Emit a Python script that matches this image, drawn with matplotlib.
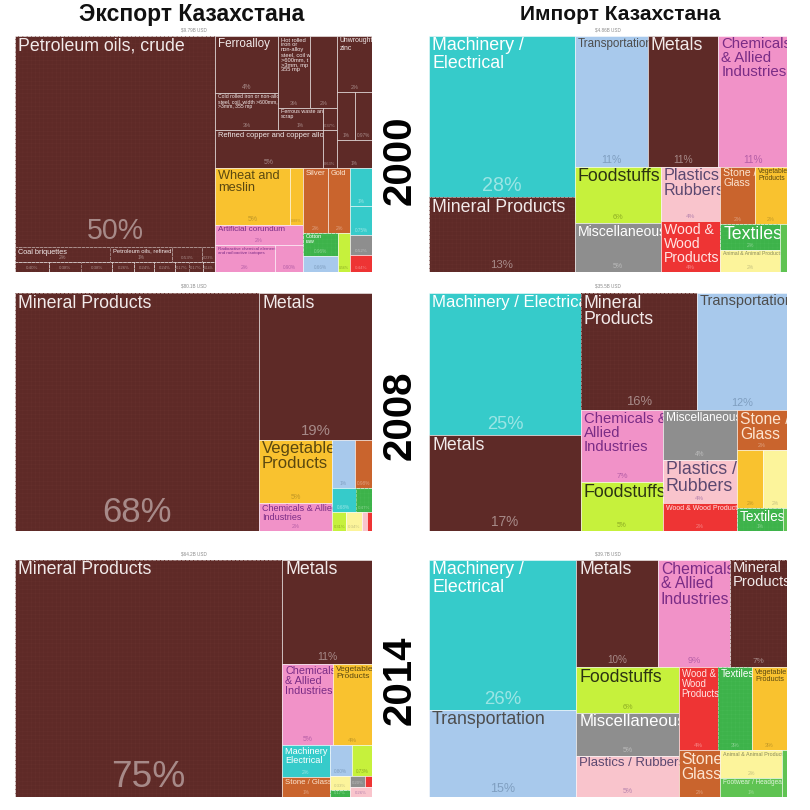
import matplotlib
matplotlib.use("Agg")
import math
import matplotlib.pyplot as plt
from matplotlib.patches import Rectangle
from matplotlib.textpath import TextPath
from matplotlib.font_manager import FontProperties

plt.rcParams["hatch.linewidth"] = 0.35

# ---------------- DATA ----------------
years = ["2000", "2008", "2014"]
titles = ["Экспорт Казахстана", "Импорт Казахстана"]

# Export 2000
exp2000_usd = "$9.79B USD"
exp2000_labels = [
    "Petroleum oils, crude", "Coal briquettes", "Petroleum oils, refined", "", "",
    "", "", "", "", "", "", "", "", "",
    "Ferroalloy",
    "Cold rolled iron or non-alloy\nsteel, coil, width >600mm, t\n>3mm, 355 mp",
    "Hot rolled\niron or\nnon-alloy\nsteel, coil w\n>600mm, t\n>3mm, mp\n355 mp",
    "", "Ferrous waste and\nscrap", "", "Refined copper and copper alloys", "",
    "Unwrought\nzinc", "", "", "",
    "Wheat and\nmeslin", "", "Artificial corundum",
    "Radioactive chemical elements\nand radioactive isotopes", "",
    "Silver", "Gold", "Cotton\nraw", "", "", "", "", "", "",
]
exp2000_values = [
    50.1, 1.69, 1.10, 0.53, 0.23,
    0.40, 0.38, 0.38, 0.26, 0.24, 0.24, 0.17, 0.17, 0.14,
    4.26, 2.77, 2.73, 2.31, 1.18, 0.37, 4.87, 0.63, 2.33, 1.03, 0.97, 1.16,
    5.07, 0.88, 2.09, 1.92, 0.90, 1.93, 1.70, 0.96, 0.66, 0.56, 1.0, 0.75, 0.52, 0.44,
]
exp2000_cats = (["min"] * 14 + ["met"] * 12 +
                ["veg", "veg", "chem", "chem", "chem", "stone", "stone", "text",
                 "trans", "food", "mach", "mach", "misc", "wood"])
exp2000_tree = ("h", [
    ("v", [0, ("v", [("h", [1, 2, 3, 4]), ("h", [5, 6, 7, 8, 9, 10, 11, 12, 13])])]),
    ("v", [
        ("h", [
            ("v", [("h", [("v", [14, 15]), ("v", [("h", [16, 17]), ("h", [18, 19])])]),
                   ("h", [20, 21])]),
            ("v", [22, ("h", [23, 24]), 25])]),
        ("h", [
            ("v", [("h", [26, 27]), ("v", [28, ("h", [29, 30])])]),
            ("v", [("h", [31, 32]), ("h", [("v", [33, 34]), 35])]),
            ("v", [36, 37, 38, 39])]),
    ]),
])

# Import 2000
imp2000_usd = "$4.86B USD"
imp2000_labels = ["Machinery /\nElectrical", "Mineral Products", "Transportation", "Metals",
                  "Chemicals\n& Allied\nIndustries", "Foodstuffs", "Miscellaneous",
                  "Plastics\nRubbers", "Wood &\nWood\nProducts", "Stone /\nGlass",
                  "Vegetable\nProducts", "Textiles", "Animal & Animal Products", ""]
imp2000_values = [28, 13, 11.4, 11.0, 10.7, 5.8, 5.0, 3.9, 3.6, 2.4, 2.2, 1.8, 1.6, 0.4]
imp2000_cats = ["mach", "min", "trans", "met", "chem", "food", "misc", "plast", "wood",
                "stone", "veg", "text", "anim", "foot"]
imp2000_tree = ("h", [("v", [0, 1]),
                      ("v", [("h", [2, 3, 4]),
                             ("h", [("v", [5, 6]), ("v", [7, 8]),
                                    ("v", [("h", [9, 10]), ("h", [("v", [11, 12]), 13])])])])])

# Export 2008
exp2008_usd = "$80.1B USD"
exp2008_labels = ["Mineral Products", "Metals", "Vegetable\nProducts",
                  "Chemicals & Allied\nIndustries", "", "", "", "", "", "", "", ""]
exp2008_values = [68, 19.4, 5.4, 2.4, 1.27, 0.98, 0.68, 0.47, 0.31, 0.34, 0.11, 0.11]
exp2008_cats = ["min", "met", "veg", "chem", "trans", "stone", "mach", "text", "food",
                "anim", "plast", "wood"]
exp2008_tree = ("h", [0, ("v", [1, ("h", [("v", [2, 3]),
                                          ("v", [("h", [4, 5]), ("h", [6, 7]),
                                                 ("h", [8, 9, 10, 11])])])])])

# Import 2008
imp2008_usd = "$35.5B USD"
imp2008_labels = ["Machinery / Electrical", "Metals", "Mineral\nProducts", "Transportation",
                  "Chemicals &\nAllied\nIndustries", "Foodstuffs", "Miscellaneous",
                  "Plastics /\nRubbers", "Wood & Wood Products", "Stone /\nGlass", "", "",
                  "Textiles", ""]
imp2008_values = [25.3, 17.1, 15.9, 12.4, 6.9, 4.7, 4.3, 3.8, 2.4, 2.35, 1.8, 1.6, 1.24, 0.1]
imp2008_cats = ["mach", "met", "min", "trans", "chem", "food", "misc", "plast", "wood",
                "stone", "veg", "anim", "text", "foot"]
imp2008_tree = ("h", [("v", [0, 1]),
                      ("v", [("h", [2, 3]),
                             ("h", [("v", [4, 5]), ("v", [6, 7, 8]),
                                    ("v", [9, ("h", [10, 11]), ("h", [12, 13])])])])])

# Export 2014
exp2014_usd = "$64.2B USD"
exp2014_labels = ["Mineral Products", "Metals", "Chemicals\n& Allied\nIndustries",
                  "Vegetable\nProducts", "Machinery /\nElectrical", "Stone / Glass",
                  "", "", "", "", "", "", ""]
exp2014_values = [74.8, 11.1, 4.9, 3.7, 1.8, 1.1, 0.8, 0.73, 0.33, 0.17, 0.2, 0.09, 0.26]
exp2014_cats = ["min", "met", "chem", "veg", "mach", "stone", "trans", "food", "anim",
                "text", "misc", "wood", "plast"]
exp2014_tree = ("h", [0, ("v", [1, ("h", [2, 3]),
                                ("h", [("v", [4, 5]),
                                       ("v", [("h", [6, 7]),
                                              ("h", [("v", [8, 9]),
                                                     ("v", [("h", [10, 11]), 12])])])])])])

# Import 2014
imp2014_usd = "$39.7B USD"
imp2014_labels = ["Machinery /\nElectrical", "Transportation", "Metals",
                  "Chemicals\n& Allied\nIndustries", "Mineral\nProducts", "Foodstuffs",
                  "Miscellaneous", "Plastics / Rubbers", "Wood &\nWood\nProducts", "Textiles",
                  "Vegetable\nProducts", "Stone\nGlass", "Animal & Animal Products",
                  "Footwear / Headgear", ""]
imp2014_values = [26, 15.1, 10.3, 9.1, 7.2, 5.5, 5.2, 5.0, 3.8, 3.4, 3.4, 2.3, 2.0, 1.4, 0.28]
imp2014_cats = ["mach", "trans", "met", "chem", "min", "food", "misc", "plast", "wood",
                "text", "veg", "stone", "anim", "foot", "foot"]
imp2014_tree = ("h", [("v", [0, 1]),
                      ("v", [("h", [2, 3, 4]),
                             ("h", [("v", [5, 6, 7]),
                                    ("v", [("h", [8, 9, 10]),
                                           ("h", [11, ("v", [12, 13]), 14])])])])])

# ---------------- STYLE ----------------
STYLE = {
    "min":   ("#5E2A27", "#F2EAEA", "#FFFFFF", 0.45),
    "met":   ("#5E2A27", "#F2EAEA", "#FFFFFF", 0.45),
    "mach":  ("#36CBCA", "#FFFFFF", "#FFFFFF", 0.5),
    "trans": ("#A8C9EC", "#4D4D4D", "#4D6A8A", 0.45),
    "chem":  ("#F192C8", "#7A2C86", "#7A2C86", 0.5),
    "food":  ("#C6F13C", "#2B3312", "#7E9A1E", 0.8),
    "plast": ("#F9C4CC", "#5B4870", "#8A5A9A", 0.6),
    "misc":  ("#8E8E8E", "#FFFFFF", "#FFFFFF", 0.4),
    "wood":  ("#EE3434", "#FFE4E4", "#FFFFFF", 0.4),
    "stone": ("#C9642D", "#FCE4D0", "#FFFFFF", 0.4),
    "veg":   ("#F9C22F", "#5A4810", "#9A7A20", 0.6),
    "text":  ("#3DB34A", "#FFFFFF", "#FFFFFF", 0.4),
    "anim":  ("#FCF49B", "#8A8A5A", "#A0A070", 0.6),
    "foot":  ("#5FC352", "#E0F4DA", "#FFFFFF", 0.4),
}
HATCHED = {"min": "#65302C", "text": "#45B952"}
FONT = ["Liberation Sans", "DejaVu Sans"]
FP = FontProperties(family="Liberation Sans")
PX = 100 / 72.0
FIG = 810

fig = plt.figure(figsize=(8.1, 8.1), dpi=100)
fig.patch.set_facecolor("white")


def text_width_px(line, size=10.0):
    if not line.strip():
        return 1.0
    return TextPath((0, 0), line, size=size, prop=FP).get_extents().width * PX


def total(node, vals):
    if isinstance(node, int):
        return vals[node]
    return sum(total(k, vals) for k in node[1])


def layout(node, x0, y0, x1, y1, vals, out):
    if isinstance(node, int):
        out[node] = (x0, y0, x1, y1)
        return
    d, kids = node
    sums = [total(k, vals) for k in kids]
    T = sum(sums)
    pos = x0 if d == "h" else y0
    for k, s in zip(kids, sums):
        if d == "h":
            w = (x1 - x0) * s / T
            layout(k, pos, y0, pos + w, y1, vals, out)
        else:
            w = (y1 - y0) * s / T
            layout(k, x0, pos, x1, pos + w, vals, out)
        pos += w


def draw_panel(box, labels, values, cats, tree, usd, area_k=None):
    x0, y0, x1, y1 = box
    W, H = x1 - x0, y1 - y0
    ax = fig.add_axes([x0 / FIG, 1 - y1 / FIG, W / FIG, H / FIG])
    ax.set_xlim(0, W)
    ax.set_ylim(H, 0)
    ax.axis("off")
    fig.text((x0 + W / 2) / FIG, 1 - (y0 - 4) / FIG, usd, ha="center", va="bottom",
             fontsize=3.3, color="#8A8A8A", family=FONT)
    rects = {}
    layout(tree, 0, 0, W, H, values, rects)
    for i in sorted(rects):
        rx0, ry0, rx1, ry1 = rects[i]
        w, h = rx1 - rx0, ry1 - ry0
        fill, tc, pc, pa = STYLE[cats[i]]
        ax.add_patch(Rectangle((rx0, ry0), w, h, facecolor=fill,
                               edgecolor=(1, 1, 1, 0.7), lw=0.5, zorder=4 * i + 1))
        if cats[i] in HATCHED:
            ax.add_patch(Rectangle((rx0, ry0), w, h, fill=False, hatch="++++",
                                   edgecolor=HATCHED[cats[i]], lw=0, zorder=4 * i + 2))
        lab = labels[i]
        if lab:
            lines = lab.split("\n")
            wmax = max(text_width_px(s) for s in lines)
            fs = min(12.8, 10.0 * (w - 4) * 1.06 / wmax, h / (len(lines) * PX * 1.2))
            if area_k is not None:
                fs = min(fs, area_k * math.sqrt(w * h))
            if fs >= 2.3:
                ax.text(rx0 + 3, ry0 + 1.5, lab, ha="left", va="top", fontsize=fs,
                        color=tc, family=FONT, linespacing=1.0, clip_on=True,
                        zorder=4 * i + 3)
        v = values[i]
        s = f"{int(v + 0.5)}%" if v >= 1 else f"{v:.2f}%"
        pfs = min(0.4 * v + 3, 0.25 * v + 8, 1.05 * w / len(s), h / (PX * 1.6))
        if pfs >= 2.3:
            ax.text(rx0 + w / 2, ry1 - 2, s, ha="center", va="bottom", fontsize=pfs,
                    color=pc, alpha=pa, family=FONT, clip_on=True, zorder=4 * i + 3)


panels = [
    ((15, 36, 372, 272), exp2000_labels, exp2000_values, exp2000_cats, exp2000_tree, exp2000_usd, 0.14),
    ((429, 36, 787, 272), imp2000_labels, imp2000_values, imp2000_cats, imp2000_tree, imp2000_usd, None),
    ((15, 293, 372, 531), exp2008_labels, exp2008_values, exp2008_cats, exp2008_tree, exp2008_usd, None),
    ((429, 293, 787, 531), imp2008_labels, imp2008_values, imp2008_cats, imp2008_tree, imp2008_usd, None),
    ((15, 560, 372, 797), exp2014_labels, exp2014_values, exp2014_cats, exp2014_tree, exp2014_usd, None),
    ((429, 560, 787, 797), imp2014_labels, imp2014_values, imp2014_cats, imp2014_tree, imp2014_usd, None),
]
for p in panels:
    draw_panel(*p)

# titles
TFONT = ["Liberation Sans Narrow", "Liberation Sans", "DejaVu Sans"]
fig.text(192 / FIG, 1 - 15 / FIG, titles[0], ha="center", va="center", fontsize=16.5,
         fontweight="bold", family=TFONT, color="#111111")
fig.text(620 / FIG, 1 - 15 / FIG, titles[1], ha="center", va="center", fontsize=15,
         fontweight="bold", family=TFONT, color="#111111")

# year labels
for yr, yc in zip(years, [160, 415, 680]):
    fig.text(400 / FIG, 1 - yc / FIG, yr, rotation=90, ha="center", va="center",
             fontsize=29, fontweight="bold", family=FONT, color="#000000")

fig.savefig("out.png", dpi=100, facecolor="white")
